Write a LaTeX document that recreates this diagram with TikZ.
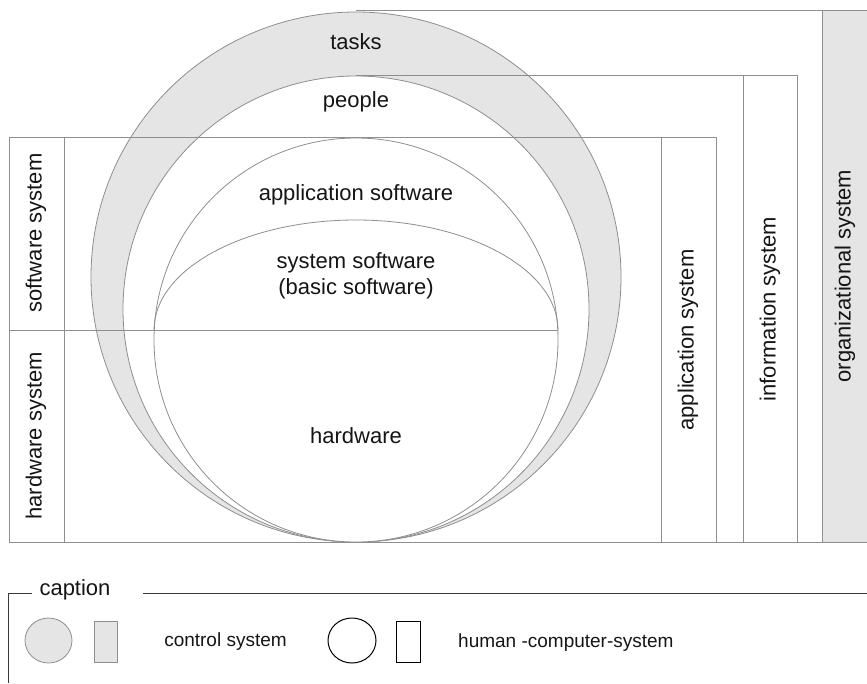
\documentclass[tikz,border=0pt]{standalone}
\usepackage{fontspec}
\setmainfont{Liberation Sans}
\definecolor{linegray}{HTML}{8E8E8E}
\definecolor{fillgray}{HTML}{E5E5E5}
\definecolor{txt}{HTML}{151515}
\definecolor{capline}{HTML}{3A3A3A}
\begin{document}
\begin{tikzpicture}[x=1pt,y=-1pt,
  ln/.style={draw=linegray, line width=0.8pt},
  lbl/.style={font=\fontsize{22}{26}\selectfont, text=txt, inner sep=0pt, align=center},
  small/.style={font=\fontsize{19}{22}\selectfont, text=txt, inner sep=0pt},
  capln/.style={draw=capline, line width=1pt},
  hcs/.style={draw=black, line width=1pt}]
\useasboundingbox (0,0) rectangle (867,683);
% organizational column fill
\fill[fillgray] (822,10) rectangle (867,542);
% circles
\draw[ln, fill=fillgray] (356,277) circle[radius=265pt];
\draw[ln, fill=white] (356,309) circle[radius=233pt];
\draw[ln, fill=white] (356,340) circle[radius=202pt];
\begin{scope}
  \clip (0,0) rectangle (867,330);
  \draw[ln] (356,330) ellipse[x radius=202pt, y radius=110pt];
\end{scope}
% rectangles (drawn on top of the circles)
\draw[ln] (9,137) rectangle (716,542);
\draw[ln] (64,137) -- (64,542);
\draw[ln] (661,137) -- (661,542);
\draw[ln] (9,330) -- (557,330);
\draw[ln] (356,75) -- (797,75) -- (797,542);
\draw[ln] (743,75) -- (743,542);
\draw[ln] (356,10) -- (867,10);
\draw[ln] (822,10) -- (822,542);
\draw[ln] (9,542) -- (867,542);
% labels
\node[lbl] (tasks) at (356,42) {tasks};
\node[lbl] (people) at (356,102) {people};
\node[lbl] (appsw) at (356,195) {application software};
\node[lbl] (syssw) at (356,276) {system software\\(basic software)};
\node[lbl] (hw) at (356,436) {hardware};
\node[lbl, rotate=90] (swsys) at (36,233) {software system};
\node[lbl, rotate=90] (hwsys) at (36,436) {hardware system};
\node[lbl, rotate=90] (appsys) at (688,340) {application system};
\node[lbl, rotate=90] (infsys) at (770,309) {information system};
\node[lbl, rotate=90] (orgsys) at (845,276) {organizational system};
% caption
\node[lbl] (cap) at (75,590) {caption};
\coordinate (capA) at (8,683);
\coordinate (capB) at (8,593);
\coordinate (capC) at (32,593);
\coordinate (capD) at (143,593);
\coordinate (capE) at (867,593);
\draw[capln] (capA) -- (capB) -- (capC);
\draw[capln] (capD) -- (capE);
\draw[ln, fill=fillgray] (48.5,640.5) ellipse[x radius=23.5pt, y radius=22.5pt];
\draw[ln, fill=fillgray] (94,621) rectangle (117,662);
\node[small] (ctrl) at (225.5,642) {control system};
\draw[hcs] (352,640.5) ellipse[x radius=24pt, y radius=22.5pt];
\draw[hcs] (396,621) rectangle (420,662);
\node[small, anchor=west] (hcsl) at (458,643) {human -computer-system};
\end{tikzpicture}
\end{document}
